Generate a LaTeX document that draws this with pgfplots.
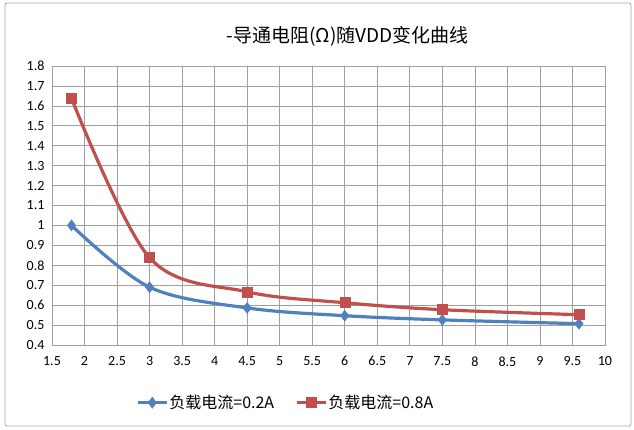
\documentclass[border=0pt]{standalone}
\usepackage{pgfplots}
\pgfplotsset{compat=1.18}
\usepackage{fontspec}
\setmainfont{Carlito}
\newfontfamily\cjk{Noto Sans CJK SC}
\definecolor{sblue}{HTML}{4F81BD}
\definecolor{sred}{HTML}{C0504D}
\begin{document}
\begin{tikzpicture}
\begin{axis}[
  at={(0pt,0pt)}, anchor=south west,
  scale only axis, width=553pt, height=279pt,
  xmin=1.5, xmax=10, ymin=0.4, ymax=1.8,
  xtick={1.5,2,...,10}, ytick={0.4,0.5,...,1.8},
  xticklabels={1.5,2,2.5,3,3.5,4,4.5,5,5.5,6,6.5,7,7.5,8,8.5,9,9.5,10},
  yticklabels={0.4,0.5,0.6,0.7,0.8,0.9,1,1.1,1.2,1.3,1.4,1.5,1.6,1.7,1.8},
  major tick length=0pt,
  grid=major, grid style={gray!75, line width=0.7pt},
  axis line style={gray!75, line width=0.7pt},
  tick label style={font=\fontsize{14}{15}\selectfont},
  /pgf/number format/assume math mode=true,
  xticklabel style={yshift=-8pt},
  yticklabel style={xshift=-4pt},
  title={\cjk\fontsize{19}{20}\selectfont -导通电阻(Ω)随VDD变化曲线},
  title style={at={(0.535,1)}, yshift=10pt},
  legend style={at={(81pt,-46pt)}, anchor=north west, draw=none, legend columns=2,
    font=\cjk\fontsize{16}{18}\selectfont, column sep=0pt,
    /tikz/every even column/.append style={column sep=20pt},
    /tikz/every node/.append style={inner xsep=1pt}},
  legend image code/.code={\draw[#1, mark repeat=2, mark phase=2] plot coordinates {(0pt,0pt) (14.5pt,0pt) (29pt,0pt)};},
]
\addplot[sblue, line width=3.2pt, smooth, tension=0.55, mark=diamond*, mark size=5.5pt, mark options={solid, line width=0.5pt}]
  coordinates {(1.8,1.0) (3,0.69) (4.5,0.586) (6,0.547) (7.5,0.526) (9.6,0.507)};
\addlegendentry{负载电流=0.2A}
\addplot[sred, line width=3.2pt, smooth, tension=0.55, mark=square*, mark size=5pt, mark options={solid, line width=0.5pt}]
  coordinates {(1.8,1.638) (3,0.838) (4.5,0.667) (6,0.612) (7.5,0.577) (9.6,0.552)};
\addlegendentry{负载电流=0.8A}
\end{axis}
\useasboundingbox (-52pt,-85pt) rectangle (582pt,345pt);
\draw[gray!70, line width=0.8pt, rounded corners=2pt] (-47pt,-81pt) rectangle (579pt,342pt);
\end{tikzpicture}
\end{document}
